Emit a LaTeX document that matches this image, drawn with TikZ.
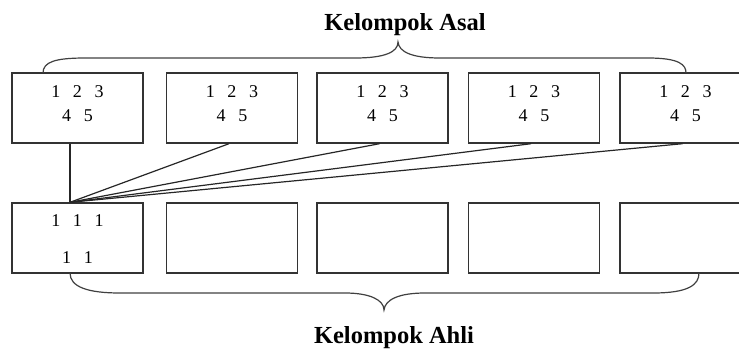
\documentclass[tikz,border=0pt]{standalone}
\usepackage{fontspec}
\setmainfont{Liberation Serif}
\usetikzlibrary{calc}
\begin{document}
\begin{tikzpicture}[x=1pt,y=-1pt,
  boxst/.style={draw=black!80,line width=1.4pt,minimum width=131pt,minimum height=70pt,inner sep=0pt},
  link/.style={draw=black!85,line width=1.2pt},
  brc/.style={draw=black!75,line width=1.2pt},
  digits/.style={font=\fontsize{18}{24}\selectfont,align=center,inner sep=0pt},
  ttl/.style={font=\fontsize{24.5}{26}\selectfont\bfseries,inner sep=0pt}]
\useasboundingbox (0,0) rectangle (739,349);
\clip (0,0) rectangle (739,349);
% top boxes (Kelompok Asal)
\foreach \i/\x in {1/77.5,2/232,3/382.5,4/534,5/685.5}{
  \node[boxst] (t\i) at (\x,108) {};
  \node[digits] (tt\i) at (\x,104) {1\hspace{0.7em}2\hspace{0.7em}3\\[0pt]4\hspace{0.7em}5};
}
% bottom boxes (Kelompok Ahli)
\foreach \i/\x in {1/77.5,2/232,3/382.5,4/534,5/685.5}{
  \node[boxst] (b\i) at (\x,238) {};
}
\node[digits] (bb1) at (77.5,221) {1\hspace{0.7em}1\hspace{0.7em}1};
\node[digits] (bb2) at (77.5,258) {1\hspace{0.7em}1};
% connectors
\coordinate (s1) at ($(t1.south)+(-7.5,0)$);
\coordinate (j) at ($(b1.north)+(-7.5,0)$);
\draw[link] (s1) -- (j);
\foreach \i in {2,3,4,5}{ \draw[link] ($(t\i.south)+(-3,0)$) -- (j); }
% top brace
\coordinate (ta) at (43,73);
\coordinate (tb) at (686,73);
\draw[brc] (ta) .. controls (43,62) and (55,58) .. (85,58) -- (355,58)
  .. controls (385,58) and (398,52) .. (398,42)
  .. controls (399,52) and (412,58) .. (440,58) -- (648,58)
  .. controls (680,58) and (686,65) .. (tb);
% bottom brace
\coordinate (ba) at (70,273);
\coordinate (bz) at (699,273);
\draw[brc] (ba) .. controls (70,287) and (88,293) .. (120,293) -- (345,293)
  .. controls (370,293) and (384,300) .. (384,310)
  .. controls (385,300) and (398,293) .. (425,293) -- (653,293)
  .. controls (688,293) and (699,285) .. (bz);
% titles
\node[ttl,anchor=base] (asal) at (405,30) {Kelompok Asal};
\node[ttl,anchor=base] (ahli) at (394,343) {Kelompok Ahli};
\end{tikzpicture}
\end{document}
